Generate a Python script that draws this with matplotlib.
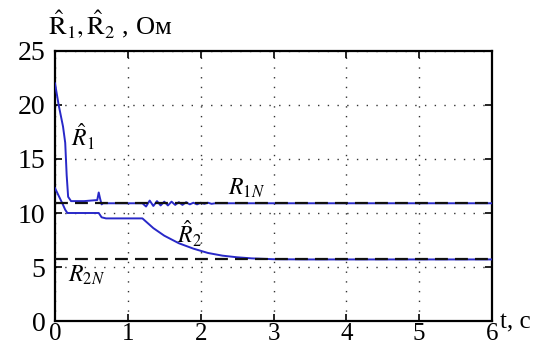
import numpy as np
import matplotlib.pyplot as plt

plt.rcParams['font.family'] = ['Liberation Serif', 'DejaVu Serif']
plt.rcParams['mathtext.fontset'] = 'stix'

# номинальные значения
R1N = 10.9
R2N = 5.7

# оценка R1
t_r1 = [0.0, 0.02, 0.05, 0.08, 0.11, 0.14, 0.16, 0.18, 0.22, 0.4, 0.58, 0.6, 0.62, 0.64, 0.66,
        0.8, 1.0, 1.2, 1.25, 1.3, 1.35, 1.4, 1.45, 1.5, 1.55, 1.6, 1.65, 1.7, 1.75, 1.8, 1.85,
        1.9, 1.95, 2.0, 2.05, 2.1, 2.15, 2.2, 2.5, 3.0, 4.0, 5.0, 6.0]
r1 = [22.0, 21.2, 20.0, 19.0, 18.0, 16.5, 13.5, 11.5, 11.1, 11.1, 11.2, 11.9, 11.3, 10.8, 10.9,
      10.9, 10.9, 10.9, 10.6, 11.15, 10.65, 11.1, 10.7, 11.05, 10.7, 11.05, 10.75, 11.0, 10.75, 11.0, 10.8,
      10.95, 10.8, 10.95, 10.85, 10.95, 10.85, 10.9, 10.9, 10.9, 10.9, 10.9, 10.9]

# оценка R2
t_r2 = [0.0, 0.05, 0.1, 0.14, 0.17, 0.3, 0.6, 0.64, 0.7, 1.0, 1.2, 1.25, 1.35, 1.5, 1.7, 1.9,
        2.1, 2.3, 2.5, 2.7, 3.0, 3.5, 4.0, 5.0, 6.0]
r2 = [12.3, 11.6, 10.9, 10.3, 10.0, 10.0, 10.0, 9.6, 9.5, 9.5, 9.5, 9.2, 8.6, 7.9, 7.2, 6.7,
      6.3, 6.05, 5.9, 5.8, 5.72, 5.7, 5.7, 5.7, 5.7]

xticks = [0, 1, 2, 3, 4, 5, 6]
yticks = [0, 5, 10, 15, 20, 25]

fig = plt.figure(figsize=(5.48, 3.49), dpi=100)
ax = fig.add_axes([0.1004, 0.0802, 0.7974, 0.7737])

ax.plot(t_r1, r1, color='#2828c8', lw=1.4, zorder=3)
ax.plot(t_r2, r2, color='#2828c8', lw=1.4, zorder=3)
ax.axhline(R1N, color='#111111', lw=1.6, ls=(0, (5.8, 3.2)), zorder=4)
ax.axhline(R2N, color='#111111', lw=1.6, ls=(0, (5.8, 3.2)), zorder=4)

ax.set_xlim(0, 6)
ax.set_ylim(0, 25)
ax.set_xticks(xticks)
ax.set_yticks(yticks)
ax.grid(True, color='#333333', ls=(0, (1, 6)), lw=1.0)
ax.tick_params(direction='in', top=True, right=True, length=5, width=1.2,
               labelsize=20)
ax.tick_params(axis='x', pad=1.5, labelsize=18)
ax.tick_params(axis='y', pad=7)
for s in ax.spines.values():
    s.set_linewidth(1.6)

ax.text(0.22, 16.1, r'$\hat{R}_1$', fontsize=17)
ax.text(2.37, 11.7, r'$R_{1N}$', fontsize=17)
ax.text(1.68, 7.2, r'$\hat{R}_2$', fontsize=17)
ax.text(0.18, 3.6, r'$R_{2N}$', fontsize=17)

fig.text(0.0876, 0.90, r'$\hat{\mathrm{R}}_1,\hat{\mathrm{R}}_2$ , Ом', fontsize=19)
fig.text(0.912, 0.06, 't, c', fontsize=18)

fig.savefig('out.png')
